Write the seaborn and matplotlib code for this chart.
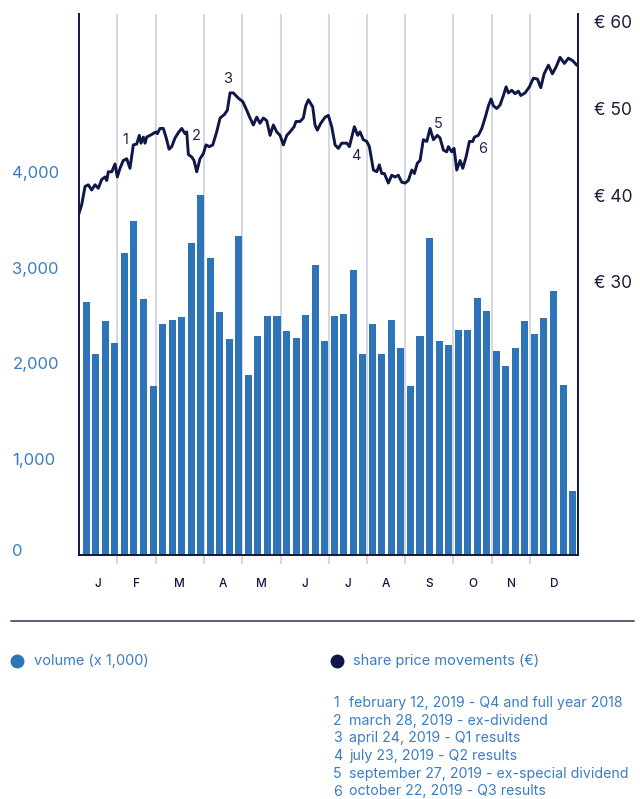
import numpy as np
import matplotlib
matplotlib.use("Agg")
import matplotlib.pyplot as plt
import seaborn as sns
from matplotlib.lines import Line2D
from matplotlib.ticker import FixedLocator
from matplotlib.transforms import ScaledTranslation

# volume hebdomadaire (x 1 000), 52 semaines
volume = [2635, 2094, 2437, 2208, 3156, 3490, 2667, 1760, 2406, 2448,
          2479, 3260, 3760, 3104, 2531, 2250, 3333, 1875, 2281, 2490,
          2490, 2333, 2260, 2500, 3021, 2229, 2490, 2510, 2969, 2094,
          2406, 2094, 2448, 2156, 1760, 2281, 3313, 2229, 2188, 2344,
          2344, 2677, 2542, 2125, 1969, 2156, 2437, 2302, 2469, 2750,
          1771, 667]

# cours de l'action (semaine, €)
price_week = [0.00, 0.28, 0.63, 0.97, 1.32, 1.67, 2.01, 2.36, 2.71, 2.89,
              3.05, 3.41, 3.75, 3.99, 4.27, 4.61, 4.97, 5.31, 5.66, 6.01,
              6.28, 6.46, 6.70, 6.88, 7.05, 7.57, 8.02, 8.16, 8.44, 8.78,
              9.06, 9.38, 9.66, 10.00, 10.34, 10.70, 11.04, 11.22, 11.39, 11.74,
              11.98, 12.26, 12.60, 12.95, 13.23, 13.57, 13.93, 14.34, 14.69, 15.14,
              15.45, 15.73, 16.07, 16.59, 17.05, 17.47, 17.81, 18.16, 18.51, 18.85,
              19.20, 19.55, 19.90, 20.24, 20.59, 20.94, 21.28, 21.64, 21.98, 22.40,
              22.60, 23.02, 23.36, 23.61, 23.89, 24.34, 24.58, 24.82, 25.18, 25.63,
              25.97, 26.32, 26.67, 27.01, 27.36, 27.89, 28.16, 28.41, 28.68, 29.03,
              29.27, 29.61, 29.97, 30.24, 30.66, 31.01, 31.28, 31.53, 31.80, 32.22,
              32.57, 32.92, 33.26, 33.61, 33.96, 34.30, 34.66, 34.93, 35.24, 35.52,
              35.86, 36.22, 36.56, 36.91, 37.32, 37.60, 37.95, 38.30, 38.47, 38.82,
              39.06, 39.34, 39.69, 39.97, 40.31, 40.66, 41.01, 41.18, 41.59, 41.95,
              42.29, 42.64, 42.92, 43.16, 43.51, 43.85, 44.20, 44.48, 44.72, 45.07,
              45.42, 45.76, 46.01, 46.46, 46.91, 47.32, 47.74, 48.09, 48.44, 48.89,
              49.30, 49.69, 50.10, 50.55, 50.97, 51.43, 51.84, 52.01]
price = [37.9, 38.9, 41.0, 41.2, 40.6, 41.2, 40.8, 41.8, 42.1, 41.7,
         42.7, 42.7, 43.6, 42.1, 43.1, 44.0, 44.2, 43.1, 45.8, 45.9,
         46.9, 46.0, 46.7, 46.0, 46.7, 47.0, 47.3, 47.1, 47.7, 47.7,
         46.7, 45.3, 45.6, 46.6, 47.2, 47.7, 47.1, 47.3, 44.7, 44.4,
         44.0, 42.7, 44.2, 44.8, 45.8, 45.6, 45.8, 47.3, 48.9, 49.3,
         49.8, 51.8, 51.8, 51.2, 50.8, 49.8, 48.9, 48.1, 49.0, 48.3,
         48.9, 48.6, 46.9, 48.1, 47.3, 46.9, 45.8, 46.9, 47.3, 47.9,
         48.5, 48.5, 48.9, 50.3, 51.0, 50.2, 48.1, 47.5, 48.3, 49.0,
         49.2, 47.9, 45.8, 45.4, 46.0, 46.0, 45.6, 46.7, 47.9, 46.9,
         47.3, 46.4, 46.2, 45.6, 42.9, 42.7, 43.5, 42.5, 42.5, 41.4,
         42.3, 42.1, 42.3, 41.5, 41.4, 41.7, 42.9, 42.5, 43.7, 44.0,
         46.4, 46.2, 47.7, 46.4, 46.9, 46.6, 45.2, 45.0, 45.6, 45.0,
         45.4, 42.9, 44.0, 43.1, 44.4, 46.2, 46.2, 46.7, 46.9, 47.7,
         48.9, 50.3, 51.1, 50.3, 50.0, 50.4, 51.5, 52.5, 51.8, 52.1,
         51.7, 52.0, 51.5, 51.8, 52.5, 53.5, 53.4, 52.4, 54.0, 55.0,
         54.0, 54.8, 55.9, 55.2, 55.8, 55.5, 55.0, 54.9]

months = ["J", "F", "M", "A", "M", "J", "J", "A", "S", "O", "N", "D"]
month_weeks = [4, 4, 5, 4, 4, 5, 4, 4, 5, 4, 4, 5]

vol_ticks = [0, 1000, 2000, 3000, 4000]
price_ticks = [30, 40, 50, 60]

events = ["1", "2", "3", "4", "5", "6"]
event_week = [4.79, 12.19, 15.52, 28.85, 37.40, 42.08]
event_price = [46.4, 46.8, 53.4, 44.5, 48.2, 45.3]
event_text = ["february 12, 2019 - Q4 and full year 2018",
              "march 28, 2019 - ex-dividend",
              "april 24, 2019 - Q1 results",
              "july 23, 2019 - Q2 results",
              "september 27, 2019 - ex-special dividend",
              "october 22, 2019 - Q3 results"]

BLEU = "#2e74b9"
TEXTE_BLEU = "#3b7dc3"
MARINE = "#0e1746"
GRILLE = "#d3d3e2"

sns.set_style("white")
plt.rcParams["font.family"] = ["Inter", "DejaVu Sans"]

fig = plt.figure(figsize=(6.4, 7.99), dpi=100)
ax = fig.add_axes([79 / 640, 1 - 554.5 / 799, 499.3 / 640, 540.5 / 799])

# barres de volume
bar_x = 0.76 + 0.993 * np.arange(len(volume))
sns.barplot(x=bar_x, y=volume, native_scale=True, color=BLEU, saturation=1,
            width=0.74, errorbar=None, ax=ax, zorder=2)
for p in ax.patches:
    p.set_edgecolor("none")

bounds = np.concatenate([[0], np.cumsum(month_weeks)])
centers = (bounds[:-1] + bounds[1:]) / 2
ax.set_xlim(0, 52)
ax.set_ylim(0, 5650)
ax.xaxis.set_major_locator(FixedLocator(bounds[1:-1]))
ax.xaxis.set_minor_locator(FixedLocator(centers))
ax.set_xticklabels([], minor=False)
ax.set_xticklabels(months, minor=True)
ax.tick_params(axis="x", which="major", length=6.5, width=1.3, color=GRILLE,
               bottom=True)
ax.tick_params(axis="x", which="minor", length=0, pad=17, labelsize=8.5,
               labelcolor=MARINE, bottom=True)
for lbl in ax.get_xticklabels(minor=True):
    lbl.set_fontweight("medium")
ax.grid(axis="x", which="major", color=GRILLE, lw=1.3)
ax.grid(axis="y", visible=False)
ax.set_axisbelow(True)

ax.set_yticks(vol_ticks)
ax.set_yticklabels([f"{v:,}" for v in vol_ticks])
ax.tick_params(axis="y", length=0, pad=48, labelsize=12, labelcolor=TEXTE_BLEU)
for lbl in ax.get_yticklabels():
    lbl.set_horizontalalignment("left")
# le "0" est un peu remonté dans l'original
zero = ax.get_yticklabels()[0]
zero.set_transform(zero.get_transform() + ScaledTranslation(0, 5 / 100, fig.dpi_scale_trans))
ax.set_xlabel("")
ax.set_ylabel("")
for s in ["top", "right"]:
    ax.spines[s].set_visible(False)
for s in ["left", "bottom"]:
    ax.spines[s].set_color(MARINE)
    ax.spines[s].set_linewidth(1.4)

# cours de l'action
ax2 = ax.twinx()
sns.lineplot(x=price_week, y=price, color=MARINE, lw=2.1, ax=ax2, zorder=3)
ax2.set_ylim(-1.45, 60.9)
ax2.set_xlim(0, 52)
ax2.set_yticks(price_ticks)
ax2.set_yticklabels([f"€ {p}" for p in price_ticks])
ax2.tick_params(axis="y", length=0, pad=11.5, labelsize=12.5, labelcolor="#1b2038")
ax2.set_ylabel("")
for s in ["top", "left", "bottom"]:
    ax2.spines[s].set_visible(False)
ax2.spines["right"].set_color(MARINE)
ax2.spines["right"].set_linewidth(1.4)

for num, xw, pv in zip(events, event_week, event_price):
    ax2.text(xw, pv, num, ha="center", va="center", fontsize=10.5, color="#1e2550")

# séparateur et légende
fig.add_artist(Line2D([11 / 640, 634 / 640], [1 - 620.5 / 799] * 2,
                      transform=fig.transFigure, color="#3d4660", lw=1.2))

y_leg = 1 - 660.5 / 799
fig.add_artist(Line2D([16.5 / 640], [y_leg], transform=fig.transFigure, marker="o",
                      markersize=9, color=BLEU, lw=0))
fig.text(34 / 640, y_leg, "volume (x 1,000)", ha="left", va="center",
         fontsize=10.5, color=TEXTE_BLEU)
fig.add_artist(Line2D([337 / 640], [y_leg], transform=fig.transFigure, marker="o",
                      markersize=9, color=MARINE, lw=0))
fig.text(353 / 640, y_leg, "share price movements (€)", ha="left", va="center",
         fontsize=10.5, color=TEXTE_BLEU)

for i, (num, txt) in enumerate(zip(events, event_text)):
    y = 1 - (703 + i * 17.7) / 799
    fig.text(333 / 640, y, num, ha="left", va="center", fontsize=10.2, color=TEXTE_BLEU)
    fig.text(349 / 640, y, txt, ha="left", va="center", fontsize=10.2, color=TEXTE_BLEU)

fig.savefig("out.png", dpi=100)
